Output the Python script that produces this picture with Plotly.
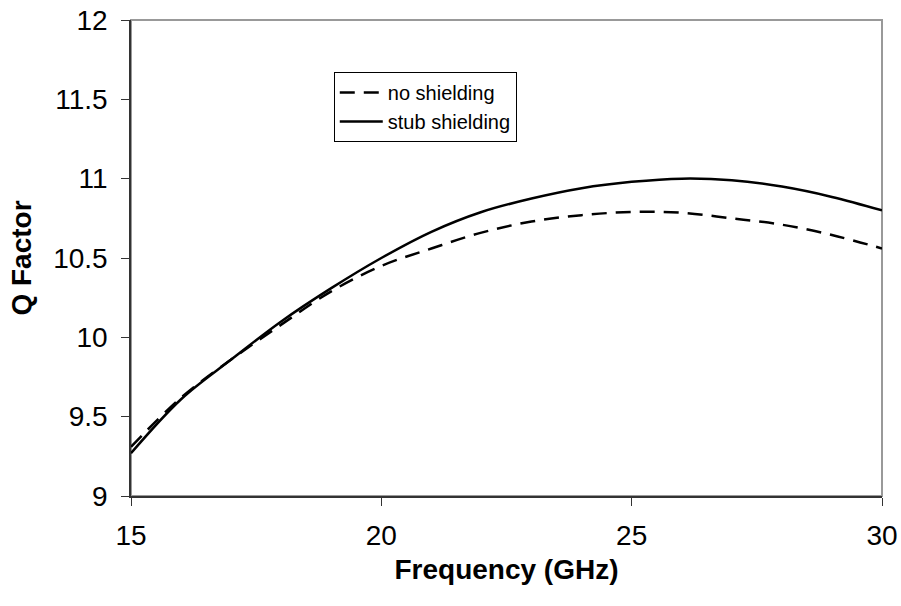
import plotly.graph_objects as go

freq = [15, 16, 17, 18, 19, 20, 21, 22, 23, 24, 25, 26, 27, 28, 29, 30]
q_no_shield = [9.31, 9.62, 9.86, 10.08, 10.29, 10.45, 10.56, 10.66, 10.73, 10.77, 10.79, 10.785, 10.75, 10.71, 10.645, 10.56]
q_stub_shield = [9.27, 9.61, 9.86, 10.10, 10.31, 10.50, 10.665, 10.79, 10.875, 10.94, 10.98, 11.00, 10.99, 10.95, 10.885, 10.80]

x_ticks = [15, 20, 25, 30]
y_ticks = [9, 9.5, 10, 10.5, 11, 11.5, 12]
y_tick_text = ["9", "9.5", "10", "10.5", "11", "11.5", "12"]

FONT = "Liberation Sans, Arial, sans-serif"

fig = go.Figure()
fig.add_trace(go.Scatter(x=freq, y=q_no_shield, mode="lines", name="no shielding",
                         line=dict(color="black", width=2.5, dash="15px,9px", shape="spline", smoothing=1.0)))
fig.add_trace(go.Scatter(x=freq, y=q_stub_shield, mode="lines", name="stub shielding",
                         line=dict(color="black", width=2.5, shape="spline", smoothing=1.0)))

fig.add_shape(type="rect", xref="paper", yref="paper", x0=0, x1=1, y0=0, y1=1,
              line=dict(color="#999999", width=2), layer="below")

fig.update_layout(
    width=901, height=606,
    margin=dict(l=131, r=19, t=20, b=110, autoexpand=False),
    plot_bgcolor="white", paper_bgcolor="white",
    font=dict(family=FONT, size=28, color="black"),
    showlegend=True,
    legend=dict(x=0.270, y=0.891, xanchor="left", yanchor="top",
                bgcolor="white", bordercolor="black", borderwidth=1,
                font=dict(family=FONT, size=20), tracegroupgap=0,
                itemwidth=43),
    xaxis=dict(range=[15, 30], tickvals=x_ticks, showgrid=False, zeroline=False,
               showline=True, linecolor="#333333", linewidth=1.5,
               ticks="outside", ticklen=8, tickcolor="#333333", ticklabelstandoff=6,
               ticklabeloverflow="allow", automargin=False,
               title=dict(text="<b>Frequency (GHz)</b>", font=dict(size=28), standoff=9)),
    yaxis=dict(range=[9, 12], tickvals=y_ticks, ticktext=y_tick_text, showgrid=False, zeroline=False,
               showline=True, linecolor="#333333", linewidth=1.5,
               ticks="outside", ticklen=8, tickcolor="#333333", ticklabelstandoff=8,
               ticklabeloverflow="allow", automargin=False,
               title=dict(text="<b>Q Factor</b>", font=dict(size=28), standoff=13)),
)

fig.write_html("out.html", config={"displayModeBar": False},
               post_script="document.body.style.margin='0';document.body.style.overflow='hidden';")
